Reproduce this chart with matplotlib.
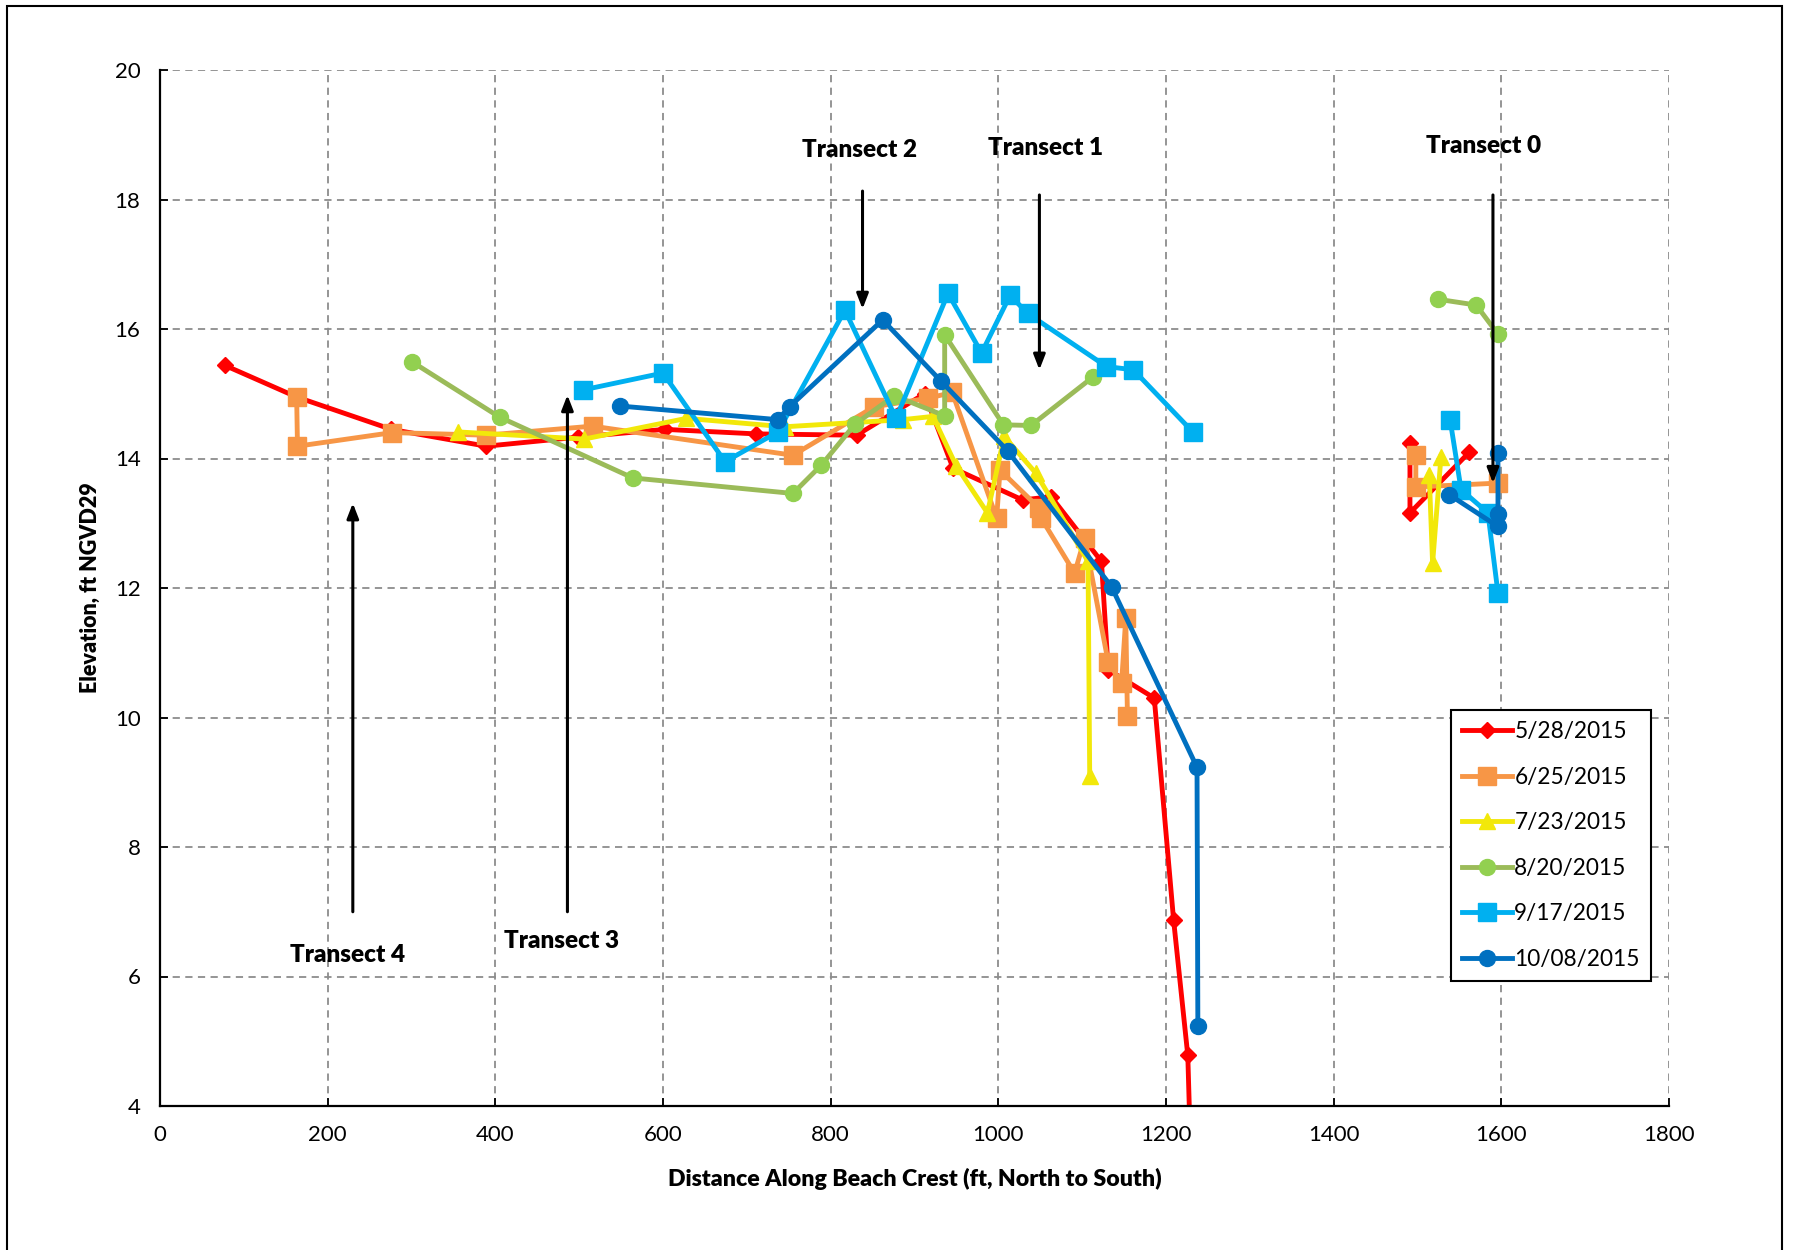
import numpy as np
import matplotlib
matplotlib.use("Agg")
import matplotlib.pyplot as plt
from matplotlib.lines import Line2D
from matplotlib.patches import Rectangle

plt.rcParams['font.family'] = ['Lato', 'DejaVu Sans']

nan = np.nan

# ---- data ----
labels = ["5/28/2015", "6/25/2015", "7/23/2015", "8/20/2015", "9/17/2015", "10/08/2015"]

x_0528 = [77, 163, 276, 389, 499, 602, 711, 831, 912, 946, 1029, 1063, 1123, 1131, 1186, 1209, 1226, 1230, nan, 1491, 1491, 1562]
y_0528 = [15.44, 14.95, 14.45, 14.19, 14.33, 14.45, 14.38, 14.36, 15.00, 13.85, 13.36, 13.41, 12.41, 10.74, 10.30, 6.88, 4.78, 3.0, nan, 14.24, 13.16, 14.10]

x_0625 = [163, 164, 277, 389, 516, 755, 852, 916, 945, 998, 1002, 1049, 1051, 1091, 1103, 1131, 1147, 1152, 1154, nan, 1498, 1498, 1596]
y_0625 = [14.95, 14.19, 14.40, 14.36, 14.50, 14.05, 14.80, 14.93, 15.02, 13.08, 13.82, 13.23, 13.08, 12.23, 12.77, 10.86, 10.53, 11.53, 10.03, nan, 14.05, 13.56, 13.62]

x_0723 = [356, 506, 628, 745, 886, 922, 950, 987, 1007, 1045, 1107, 1109, nan, 1514, 1518, 1528]
y_0723 = [14.41, 14.30, 14.62, 14.49, 14.60, 14.65, 13.88, 13.16, 14.34, 13.77, 12.41, 9.10, nan, 13.75, 12.38, 14.03]

x_0820 = [301, 405, 564, 755, 789, 829, 876, 936, 936, 1006, 1039, 1113, nan, 1524, 1570, 1596]
y_0820 = [15.49, 14.64, 13.70, 13.46, 13.90, 14.53, 14.97, 14.66, 15.91, 14.52, 14.51, 15.26, nan, 16.46, 16.37, 15.92]

x_0917 = [505, 600, 674, 737, 817, 878, 940, 980, 1014, 1035, 1129, 1161, 1232, nan, 1539, 1552, 1584, 1596]
y_0917 = [15.06, 15.32, 13.95, 14.41, 16.29, 14.62, 16.55, 15.63, 16.52, 16.24, 15.42, 15.37, 14.41, nan, 14.59, 13.52, 13.16, 11.92]

x_1008 = [549, 737, 751, 862, 932, 1011, 1135, 1237, 1238, nan, 1538, 1596, 1596, 1596]
y_1008 = [14.81, 14.60, 14.80, 16.14, 15.19, 14.12, 12.02, 9.23, 5.24, nan, 13.44, 12.95, 13.14, 14.09]

transect_names = ["Transect 4", "Transect 3", "Transect 2", "Transect 1", "Transect 0"]
transect_x = [230, 486, 838, 1049, 1590]
arrow_tail_y = [7.0, 7.0, 18.13, 18.07, 18.07]
arrow_head_y = [13.31, 14.98, 16.31, 15.37, 13.62]
label_x = [224, 479, 834, 1056, 1579]
label_y = [6.33, 6.55, 18.76, 18.80, 18.82]

# ---- styles ----
series = [
    (x_0528, y_0528, '#FF0000', '#FF0000', 'D', 8.5),
    (x_0625, y_0625, '#F79646', '#F79646', 's', 12.5),
    (x_0723, y_0723, '#F2E80A', '#F2E80A', '^', 11.5),
    (x_0820, y_0820, '#9BBB59', '#92D050', 'o', 11.5),
    (x_0917, y_0917, '#00B0F0', '#00B0F0', 's', 12.5),
    (x_1008, y_1008, '#0070C0', '#0070C0', 'o', 11.5),
]

fig = plt.figure(figsize=(17.94, 12.5), dpi=100)
ax = fig.add_axes([160/1794, 1 - 1106/1250, 1509/1794, 1036/1250])

for (xs, ys, lc, mc, mk, ms) in series:
    ax.plot(xs, ys, color=lc, lw=3.5, marker=mk, markersize=ms,
            markerfacecolor=mc, markeredgecolor=mc, solid_joinstyle='round')

ax.set_xlim(0, 1800)
ax.set_ylim(4, 20)
ax.set_xticks(np.arange(0, 1801, 200))
ax.set_yticks(np.arange(4, 21, 2))
ax.grid(True, color='#8C8C8C', linestyle=(0, (4, 3)), linewidth=1.3)
ax.set_axisbelow(True)
for s in ['top', 'right']:
    ax.spines[s].set_visible(False)
for s in ['left', 'bottom']:
    ax.spines[s].set_linewidth(1.6)
    ax.spines[s].set_color('black')
ax.tick_params(axis='both', direction='in', length=6, width=1.3, labelsize=16, pad=14)

ax.set_xlabel("Distance Along Beach Crest (ft, North to South)", fontsize=16.7,
              fontweight='heavy', labelpad=16)
ax.set_ylabel("Elevation, ft NGVD29", fontsize=15.5, fontweight='heavy', labelpad=10)

for name, tx, ty0, ty1, lx, ly in zip(transect_names, transect_x, arrow_tail_y, arrow_head_y, label_x, label_y):
    ax.annotate('', xy=(tx, ty1), xytext=(tx, ty0),
                arrowprops=dict(arrowstyle='-|>,head_length=0.9,head_width=0.35',
                                color='black', lw=2.2, shrinkA=0, shrinkB=0))
    ax.text(lx, ly, name, ha='center', va='center', fontsize=17.5, fontweight='heavy')

handles = [Line2D([0], [0], color=lc, lw=3.5, marker=mk, markersize=ms,
                  markerfacecolor=mc, markeredgecolor=mc)
           for (_, _, lc, mc, mk, ms) in series]
leg = ax.legend(handles, labels, loc='upper left', bbox_to_anchor=(0.8555, 0.3822),
                fontsize=16.3, frameon=True, fancybox=False, edgecolor='black',
                framealpha=1, labelspacing=1.08, handlelength=2.2, handletextpad=0.1,
                borderpad=0.5, borderaxespad=0)
leg.get_frame().set_linewidth(1.5)

fig.patches.append(Rectangle((7/1794, -0.01), (1782-7)/1794, 1.01 - 6/1250,
                             transform=fig.transFigure, fill=False,
                             edgecolor='black', linewidth=1.5))

fig.savefig("out.png", dpi=100)
